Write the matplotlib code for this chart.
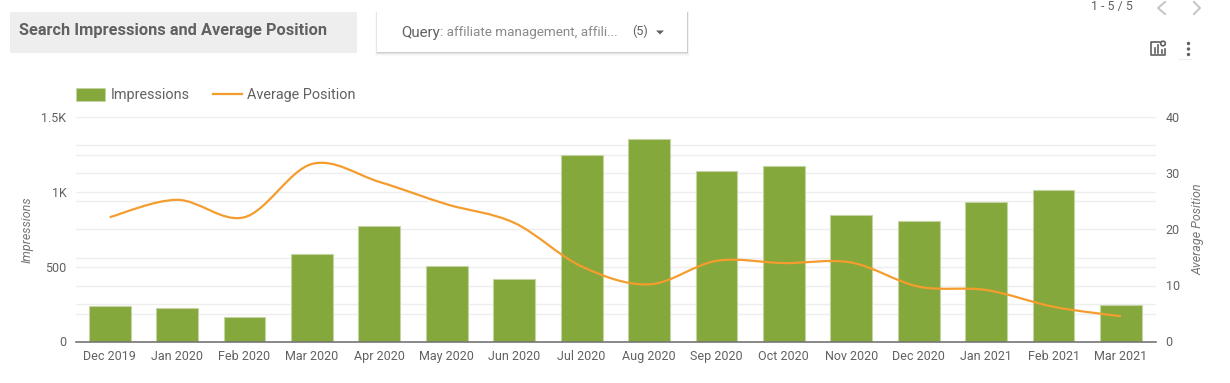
import matplotlib
matplotlib.use('Agg')
import matplotlib.pyplot as plt
from matplotlib.lines import Line2D
from matplotlib.patches import Patch, PathPatch, Rectangle, Polygon, Circle
from matplotlib.path import Path

plt.rcParams['font.family'] = ['Roboto', 'DejaVu Sans']

months = ['Dec 2019', 'Jan 2020', 'Feb 2020', 'Mar 2020', 'Apr 2020', 'May 2020', 'Jun 2020', 'Jul 2020',
          'Aug 2020', 'Sep 2020', 'Oct 2020', 'Nov 2020', 'Dec 2020', 'Jan 2021', 'Feb 2021', 'Mar 2021']
impressions = [238, 224, 162, 584, 772, 508, 418, 1251, 1357, 1142, 1176, 847, 808, 934, 1014, 246]
avg_position = [22.2, 25.3, 22.2, 31.7, 28.5, 24.5, 21.2, 13.4, 10.2, 14.4, 14.0, 14.1, 9.8, 9.2, 6.2, 4.5]

left_ticks = [0, 500, 1000, 1500]
left_labels = ['0', '500', '1K', '1.5K']
left_minor = [250, 750, 1250]
right_ticks = [0, 10, 20, 30, 40]
right_minor = [5, 10, 15, 20, 25, 30, 35]

W, H = 1230, 383
GREEN = '#84a83b'
ORANGE = '#f49d2e'
TEXT = '#616161'
GRID = '#eeeeee'


def smooth_path(xs, ys, k=1 / 6):
    # catmull-rom through the data points, same look as the chart's curved line
    verts = [(xs[0], ys[0])]
    codes = [Path.MOVETO]
    n = len(xs)
    for i in range(n - 1):
        p0 = max(i - 1, 0)
        p3 = min(i + 2, n - 1)
        verts.append((xs[i] + (xs[i + 1] - xs[p0]) * k, ys[i] + (ys[i + 1] - ys[p0]) * k))
        verts.append((xs[i + 1] - (xs[p3] - xs[i]) * k, ys[i + 1] - (ys[p3] - ys[i]) * k))
        verts.append((xs[i + 1], ys[i + 1]))
        codes += [Path.CURVE4] * 3
    return Path(verts, codes)


fig = plt.figure(figsize=(W / 100, H / 100), dpi=100)
ax = fig.add_axes([76 / W, (H - 341.5) / H, 1080 / W, 224 / H])
x = list(range(len(months)))

ax.bar(x, impressions, width=0.62, color=GREEN, edgecolor='#c4d5a3', linewidth=0.8, zorder=3)
ax.set_xlim(-0.5, 15.52)
ax.set_ylim(0, 1500)
ax.set_xticks(x)
ax.set_xticklabels(months)
ax.set_yticks(left_ticks)
ax.set_yticklabels(left_labels)

# right axis lines are drawn with the left ones so that they stay behind the bars
scale = left_ticks[-1] / right_ticks[-1]
ax.set_yticks(left_minor + [v * scale for v in right_minor if v * scale not in left_minor], minor=True)
ax.grid(True, axis='y', which='both', color=GRID, linewidth=1, zorder=0)
ax.set_axisbelow(True)
ax.tick_params(axis='both', which='both', length=0, labelcolor=TEXT)
ax.tick_params(axis='x', labelsize=9, pad=5.8)
ax.tick_params(axis='y', labelsize=9, pad=7)
for s in ['top', 'left', 'right']:
    ax.spines[s].set_visible(False)
ax.spines['bottom'].set_color('#757575')
ax.spines['bottom'].set_linewidth(1.2)
ax.spines['bottom'].set_zorder(4)
ax.set_ylabel('Impressions', style='italic', fontsize=9, color='#757575')
ax.yaxis.set_label_coords((33.5 - 76) / 1080, 0.5)

ax2 = ax.twinx()
ax2.set_ylim(0, 40)
ax2.set_yticks(right_ticks)
ax2.tick_params(axis='y', length=0, labelcolor=TEXT, labelsize=9, pad=7)
for s in ax2.spines.values():
    s.set_visible(False)
ax2.add_patch(PathPatch(smooth_path(x, avg_position), fill=False, edgecolor=ORANGE, linewidth=1.6,
                        capstyle='butt'))
ax2.set_ylabel('Average Position', style='italic', fontsize=9, color='#757575')
ax2.yaxis.set_label_coords((1191 - 76) / 1080, 0.5)

handles = [Patch(facecolor=GREEN, edgecolor='#c4d5a3', linewidth=0.5, label='Impressions'),
           Line2D([], [], color=ORANGE, linewidth=1.6, label='Average Position')]
fig.legend(handles=handles, loc='center left', bbox_to_anchor=(76 / W, (H - 95) / H), ncol=2, frameon=False,
           fontsize=10.4, labelcolor=TEXT, handlelength=2.0, handleheight=1.0, handletextpad=0.4,
           columnspacing=1.6, borderpad=0, borderaxespad=0)

# page furniture around the chart, in pixel coordinates
top = fig.add_axes([0, 0, 1, 1], zorder=10)
top.set_xlim(0, W)
top.set_ylim(H, 0)
top.axis('off')
top.patch.set_alpha(0)

top.add_patch(Rectangle((10, 12), 347, 41, facecolor='#eeeeee', edgecolor='none'))
top.text(19, 30, 'Search Impressions and Average Position', fontsize=11.8, fontweight='bold', color=TEXT,
         va='center', ha='left')

for grow, alpha in [(4, 0.02), (3, 0.03), (2, 0.05), (1, 0.1)]:
    top.add_patch(Rectangle((377 - grow * 0.5, 12), 310 + grow, 40 + grow, facecolor='black', alpha=alpha,
                            edgecolor='none'))
top.add_patch(Rectangle((377, 12), 310, 40, facecolor='white', edgecolor='none'))
top.text(401.5, 32.5, 'Query', fontsize=10.9, color=TEXT, va='center', ha='left')
top.text(440.5, 32.5, ': affiliate management, affili...', fontsize=9.7, color='#8a8a8a', va='center', ha='left')
top.text(632.5, 31.5, '(5)', fontsize=9, color=TEXT, va='center', ha='left')
top.add_patch(Polygon([(656, 30.5), (664, 30.5), (660, 34.5)], facecolor=TEXT, edgecolor='none'))

top.text(1091, 6.5, '1 - 5 / 5', fontsize=8.9, color=TEXT, va='center', ha='left')
top.plot([1165, 1158, 1165], [2, 8, 14], color='#c4c4c4', linewidth=1.4)
top.plot([1194, 1200, 1194], [2, 8, 14], color='#c4c4c4', linewidth=1.4)

# chart config icon and the menu dots
top.plot([1160, 1151, 1151, 1165, 1165], [42, 42, 55, 55, 49], color=TEXT, linewidth=1.2)
top.plot([1154.5, 1154.5], [52.5, 48], color=TEXT, linewidth=1.2)
top.plot([1158, 1158], [52.5, 45], color=TEXT, linewidth=1.2)
top.plot([1161.5, 1161.5], [52.5, 50], color=TEXT, linewidth=1.2)
top.add_patch(Circle((1163, 43.5), 2.3, facecolor='none', edgecolor=TEXT, linewidth=1.2))
for dot_y in [43.5, 49, 54.5]:
    top.add_patch(Circle((1188.5, dot_y), 1.7, facecolor=TEXT, edgecolor='none'))
top.plot([1179, 1191], [58.5, 58.5], color='#eeeeee', linewidth=0.8)

fig.savefig('out.png', dpi=100)
